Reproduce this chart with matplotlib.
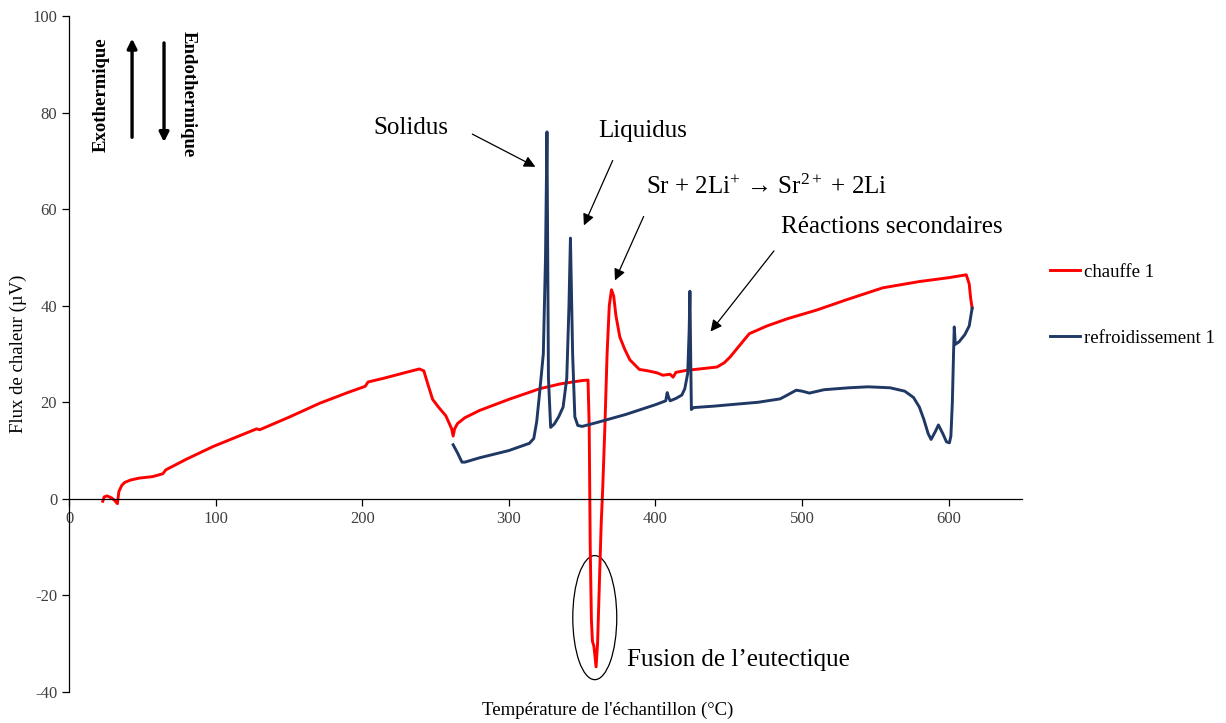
import matplotlib
matplotlib.use("Agg")
import matplotlib.pyplot as plt
from matplotlib.patches import Ellipse

plt.rcParams['font.family'] = ['Liberation Serif', 'DejaVu Serif']
plt.rcParams['axes.unicode_minus'] = False
plt.rcParams['mathtext.fontset'] = 'custom'
plt.rcParams['mathtext.rm'] = 'Liberation Serif'
plt.rcParams['mathtext.it'] = 'Liberation Serif:italic'

# chauffe 1 (heating)
red_T = [23, 24, 26, 29, 31, 33, 34, 36, 38, 42, 48, 57, 64, 66, 80, 98, 115, 128, 130,
         150, 171, 190, 202, 204, 215, 230, 239, 242, 245, 248, 252, 257, 261, 262, 263,
         265, 270, 280, 300, 321, 335, 350, 354, 354.8, 355.5, 356.3, 357, 358, 359.5,
         360.5, 361.5, 363, 364, 365.5, 367, 368.5, 370, 371.5, 373, 375.7, 379, 382.5,
         389, 395, 401, 405, 410, 412, 414, 421, 430, 442, 447, 451, 458, 464, 476, 490,
         510, 530, 555, 580, 600, 612, 614, 615, 616]
red_y = [-0.5, 0.4, 0.6, 0.2, -0.3, -1.0, 1.5, 2.8, 3.4, 3.9, 4.3, 4.6, 5.2, 6.0, 8.2,
         10.8, 12.9, 14.5, 14.3, 16.9, 19.8, 22.0, 23.3, 24.2, 25.0, 26.2, 26.9, 26.5,
         23.5, 20.6, 19.0, 17.2, 14.5, 13.0, 14.5, 15.6, 16.8, 18.3, 20.6, 22.8, 23.8,
         24.5, 24.6, 15, -10, -25, -29.5, -30.5, -34.8, -30, -20, -5, 2, 15, 30, 40,
         43.3, 42, 38, 33.5, 31, 28.8, 26.8, 26.5, 26.1, 25.6, 25.8, 25.2, 26.2, 26.6,
         26.9, 27.3, 28.2, 29.4, 32.0, 34.2, 35.8, 37.3, 39.1, 41.2, 43.7, 45.0, 45.8,
         46.4, 44.5, 41.5, 39.5]

# refroidissement 1 (cooling)
blue_T = [616, 614, 611, 607, 604.5, 603.8, 603.3, 602.5, 601.5, 600.5, 598.5, 596, 593,
          591, 588, 586, 583, 580, 576, 570, 560, 545, 532, 515, 505, 500, 496, 490, 485,
          470, 451, 440, 426, 424.5, 424, 423.5, 423, 422, 420, 418, 414, 410, 409, 408,
          407, 400, 380, 360, 350, 347, 345, 343.5, 342, 341, 339.5, 337, 334, 331, 328.5,
          327, 326, 325, 323.5, 321, 319, 317, 314, 300, 280, 270, 268, 265, 262]
blue_y = [39.5, 35.8, 34.0, 32.5, 32.0, 35.6, 30, 20, 13, 11.6, 11.8, 13.5, 15.3, 14.0,
          12.3, 13.5, 16.5, 19.0, 21.0, 22.3, 23.0, 23.2, 23.0, 22.6, 21.9, 22.3, 22.5,
          21.5, 20.7, 20.0, 19.5, 19.2, 18.9, 18.5, 30, 43.0, 35, 26, 22.8, 21.5, 20.8,
          20.3, 21.0, 22.0, 20.3, 19.5, 17.5, 15.8, 15.0, 15.2, 17, 30, 54, 40, 25, 19, 17,
          15.5, 14.8, 25, 76, 50, 30, 22, 16, 12.5, 11.5, 10.0, 8.5, 7.6, 7.6, 9.5, 11.2]

fig = plt.figure(figsize=(12.26, 7.23), dpi=100)
ax = fig.add_axes([0.0563, 0.0429, 0.7773, 0.935])

ax.plot(red_T, red_y, color='#FF0000', lw=2.1, label='chauffe 1')
ax.plot(blue_T, blue_y, color='#1F3864', lw=2.1, label='refroidissement 1')

ax.set_xlim(0, 650)
ax.set_ylim(-40, 100)
ax.set_xticks(range(0, 601, 100))
ax.set_yticks(range(-40, 101, 20))
ax.spines['top'].set_visible(False)
ax.spines['right'].set_visible(False)
ax.spines['bottom'].set_position(('data', 0))
for s in ['left', 'bottom']:
    ax.spines[s].set_linewidth(0.9)
ax.tick_params(labelsize=12, colors='#000000', labelcolor='#404040', length=5, width=0.9)

fig.text(0.015, 0.51, 'Flux de chaleur (µV)', rotation=90, ha='center', va='center', fontsize=13.5)
fig.text(0.496, 0.018, "Température de l'échantillon (°C)", ha='center', va='center', fontsize=13.5)

# endo / exo indicators
ax.text(21.8, 83.6, 'Exothermique', rotation=90, ha='center', va='center', fontsize=13.5, fontweight='bold')
ax.text(81.1, 83.9, 'Endothermique', rotation=-90, ha='center', va='center', fontsize=13.5, fontweight='bold')
ax.annotate('', xy=(43, 95.9), xytext=(43, 74.3),
            arrowprops=dict(arrowstyle='-|>', color='black', lw=2.4, mutation_scale=14))
ax.annotate('', xy=(64.8, 73.3), xytext=(64.8, 95),
            arrowprops=dict(arrowstyle='-|>', color='black', lw=2.4, mutation_scale=14))

arr = dict(arrowstyle='-|>', color='black', lw=0.9, mutation_scale=17)
ax.text(233, 76.8, 'Solidus', ha='center', va='center', fontsize=18)
ax.annotate('', xy=(319.8, 68.5), xytext=(273.4, 75.8), arrowprops=arr)
ax.text(391, 76.2, 'Liquidus', ha='center', va='center', fontsize=18)
ax.annotate('', xy=(350.4, 56.1), xytext=(371.6, 70.6), arrowprops=arr)
ax.text(476, 64.6, r'Sr + 2Li$^{\mathrm{+}}$ → Sr$^{\mathrm{2+}}$ + 2Li', ha='center', va='center',
        fontsize=18)
ax.annotate('', xy=(371.6, 44.7), xytext=(392.7, 59), arrowprops=arr)
ax.text(561, 56.3, 'Réactions secondaires', ha='center', va='center', fontsize=18)
ax.annotate('', xy=(436.4, 34.2), xytext=(482, 51.8), arrowprops=arr)
ax.text(380.4, -33.3, 'Fusion de l’eutectique', ha='left', va='center', fontsize=18)
ax.add_patch(Ellipse((358.6, -24.6), 30, 25.7, fill=False, edgecolor='black', lw=0.9))

leg = ax.legend(loc='center left', bbox_to_anchor=(0.843, 0.578), bbox_transform=fig.transFigure,
                frameon=False, fontsize=13.5, handlelength=1.6, handletextpad=0.2, labelspacing=2.6)

fig.savefig('out.png', dpi=100)
